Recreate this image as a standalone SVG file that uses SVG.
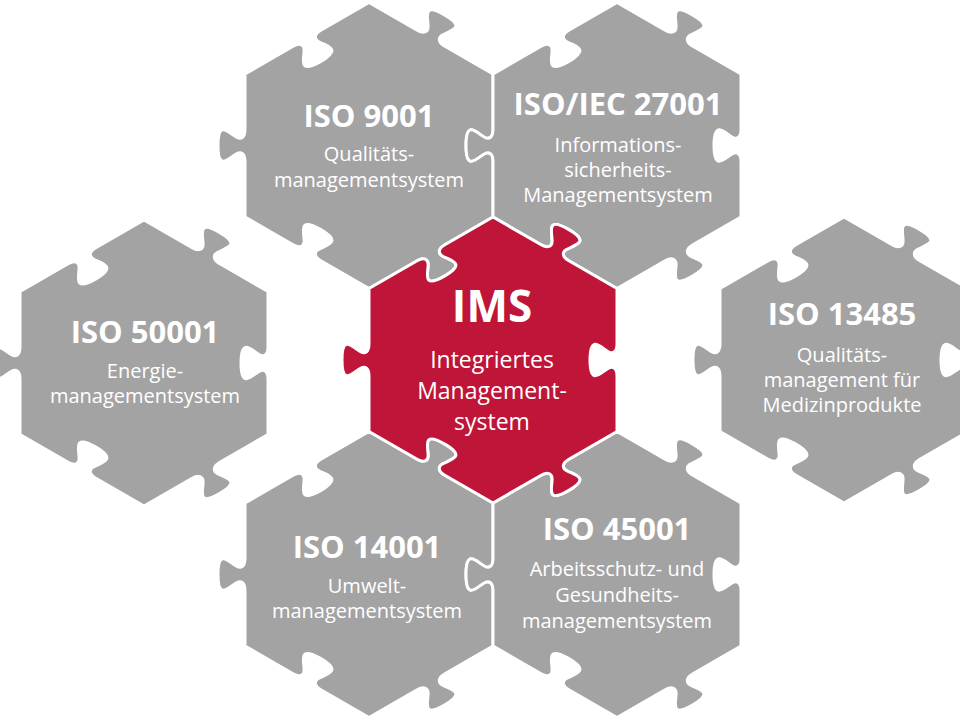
<svg xmlns="http://www.w3.org/2000/svg" width="960" height="720" viewBox="0 0 960 720">
<style>
.grey{fill:#a3a3a4;stroke:#fff;stroke-width:3;stroke-linejoin:round}
.red{fill:#bf1538;stroke:#fff;stroke-width:3;stroke-linejoin:round}
.t{font-family:"Open Sans","Noto Sans","Liberation Sans",sans-serif;fill:#fff;text-anchor:middle;font-weight:700;font-size:31px}
.s{font-family:"Open Sans","Noto Sans","Liberation Sans",sans-serif;fill:#fff;text-anchor:middle;font-weight:400;font-size:20px}
.big{font-size:44px}
.mid{font-size:23px}
</style>
<defs>
<path id="piece" d="M0,-143 L48.14,-115.25 C55.07,-111.25 58.8,-113.71 59.07,-118.18 C59.61,-127.11 52.12,-144.13 75.5,-130.63 C98.88,-117.13 80.39,-115.11 72.93,-110.18 C69.2,-107.71 68.93,-103.25 75.86,-99.25 L124,-71.5 L124,-16 C124,-8 120,-6 116,-8 C108,-12 97,-27 97,0 C97,27 108,12 116,8 C120,6 124,8 124,16 L124,71.5 L75.86,99.25 C68.93,103.25 69.2,107.71 72.93,110.18 C80.39,115.11 98.88,117.13 75.5,130.63 C52.12,144.13 59.61,127.11 59.07,118.18 C58.8,113.71 55.07,111.25 48.14,115.25 L0,143 L-48.14,115.25 C-55.07,111.25 -54.8,106.79 -51.07,104.32 C-43.61,99.39 -25.12,97.37 -48.5,83.87 C-71.88,70.37 -64.39,87.39 -64.93,96.32 C-65.2,100.79 -68.93,103.25 -75.86,99.25 L-124,71.5 L-124,16 C-124,8 -128,6 -132,8 C-140,12 -151,27 -151,0 C-151,-27 -140,-12 -132,-8 C-128,-6 -124,-8 -124,-16 L-124,-71.5 L-75.86,-99.25 C-68.93,-103.25 -65.2,-100.79 -64.93,-96.32 C-64.39,-87.39 -71.88,-70.37 -48.5,-83.87 C-25.12,-97.37 -43.61,-99.39 -51.07,-104.32 C-54.8,-106.79 -55.07,-111.25 -48.14,-115.25 Z"/>
</defs>
<rect width="960" height="720" fill="#fff"/>

<g id="iso9001">
<use href="#piece" class="grey" transform="translate(369,145.5)"/>
<text class="t" x="369" y="127">ISO 9001</text>
<text class="s" x="369" y="161">Qualitäts-</text>
<text class="s" x="369" y="187">managementsystem</text>
</g>

<g id="iso27001">
<use href="#piece" class="grey" transform="translate(617,145.5)"/>
<text class="t" x="618" y="115">ISO/IEC 27001</text>
<text class="s" x="618" y="152">Informations-</text>
<text class="s" x="618" y="177">sicherheits-</text>
<text class="s" x="618" y="202">Managementsystem</text>
</g>

<g id="iso50001">
<use href="#piece" class="grey" transform="translate(144,363)"/>
<text class="t" x="145" y="343">ISO 50001</text>
<text class="s" x="145" y="378">Energie-</text>
<text class="s" x="145" y="403">managementsystem</text>
</g>

<g id="iso13485">
<use href="#piece" class="grey" transform="translate(844,360)"/>
<text class="t" x="842" y="325">ISO 13485</text>
<text class="s" x="842" y="362">Qualitäts-</text>
<text class="s" x="842" y="387">management für</text>
<text class="s" x="842" y="412">Medizinprodukte</text>
</g>

<g id="iso14001">
<use href="#piece" class="grey" transform="translate(369,574.5)"/>
<text class="t" x="367" y="558">ISO 14001</text>
<text class="s" x="367" y="593">Umwelt-</text>
<text class="s" x="367" y="618">managementsystem</text>
</g>

<g id="iso45001">
<use href="#piece" class="grey" transform="translate(617,574.5)"/>
<text class="t" x="617" y="540">ISO 45001</text>
<text class="s" x="617" y="576">Arbeitsschutz- und</text>
<text class="s" x="617" y="602">Gesundheits-</text>
<text class="s" x="617" y="628">managementsystem</text>
</g>

<g id="ims">
<use href="#piece" class="red" transform="translate(493,360)"/>
<text class="t big" x="492" y="322">IMS</text>
<text class="s mid" x="492" y="368">Integriertes</text>
<text class="s mid" x="492" y="399">Management-</text>
<text class="s mid" x="492" y="430">system</text>
</g>
</svg>
